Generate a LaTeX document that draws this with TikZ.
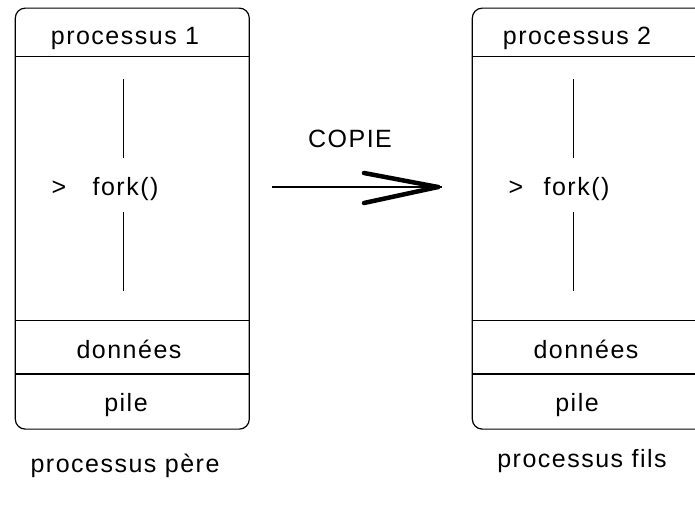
\documentclass[tikz,border=0pt]{standalone}
\usepackage{fontspec}
\setmainfont{Liberation Sans}[LetterSpace=6]
\begin{document}
\begin{tikzpicture}[x=1pt,y=-1pt,
  procbox/.style={draw, line width=1.2pt, rounded corners=10pt, minimum width=234pt, minimum height=421pt, inner sep=0pt, anchor=north west},
  lbl/.style={font=\fontsize{25}{28}\selectfont, inner sep=0pt, anchor=base},
  sep/.style={line width=1.2pt},
  vline/.style={line width=1.2pt},
  shaft/.style={line width=1.6pt},
  barb/.style={line width=4.5pt, line cap=round}]
\clip (0,0) rectangle (695,509);
\fill[white] (0,0) rectangle (695,509);
% boxes
\node[procbox] (b1) at (14.7,7.5) {};
\node[procbox] (b2) at (471.7,7.5) {};
% separators
\foreach \b in {b1,b2}{
  \draw[sep] (\b.west |- 0,56.5) -- (\b.east |- 0,56.5);
  \draw[sep] (\b.west |- 0,320.5) -- (\b.east |- 0,320.5);
  \draw[sep] (\b.west |- 0,374) -- (\b.east |- 0,374);
}
% left contents
\node[lbl] (t1) at (125,44) {processus 1};
\node[lbl] (d1) at (129,358) {données};
\node[lbl] (p1) at (126,411) {pile};
\node[lbl] (g1) at (59,195) {>};
\node[lbl] (f1) at (125.5,195) {fork()};
\coordinate (v1a) at (123.3,79);
\coordinate (v1b) at (123.3,158);
\coordinate (v1c) at (123.3,212);
\coordinate (v1d) at (123.3,291);
\draw[vline] (v1a) -- (v1b);
\draw[vline] (v1c) -- (v1d);
% right contents
\node[lbl] (t2) at (577,44) {processus 2};
\node[lbl] (d2) at (586,358) {données};
\node[lbl] (p2) at (577,411) {pile};
\node[lbl] (g2) at (516,195) {>};
\node[lbl] (f2) at (576.5,195) {fork()};
\coordinate (v2a) at (573.5,79);
\coordinate (v2b) at (573.5,158);
\coordinate (v2c) at (573.5,212);
\coordinate (v2d) at (573.5,291);
\draw[vline] (v2a) -- (v2b);
\draw[vline] (v2c) -- (v2d);
% arrow
\node[lbl] (copie) at (350,147) {COPIE};
\coordinate (a1) at (272,187);
\coordinate (a2) at (442,187);
\coordinate (h1) at (364,173);
\coordinate (h2) at (364,203);
\draw[shaft] (a1) -- (a2);
\draw[barb] (h1) -- ([xshift=-4pt]a2);
\draw[barb] (h2) -- ([xshift=-4pt]a2);
% bottom labels
\node[lbl] (lp) at (125,472) {processus père};
\node[lbl] (lf) at (582,467) {processus fils};
\end{tikzpicture}
\end{document}
